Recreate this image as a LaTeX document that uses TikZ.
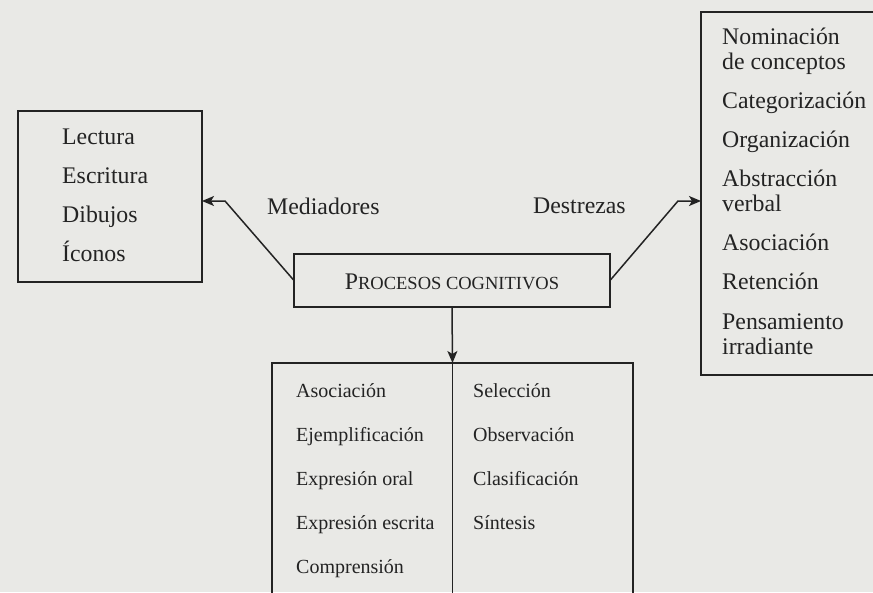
\documentclass[tikz,border=0pt]{standalone}
\usepackage{fontspec}
\setmainfont{Liberation Serif}
\usetikzlibrary{arrows.meta}
\definecolor{paper}{RGB}{233,233,230}
\definecolor{ink}{RGB}{35,35,35}
\begin{document}
\begin{tikzpicture}[x=1pt,y=-1pt,
  box/.style={draw=ink, line width=1.6pt, rectangle, inner sep=0pt, outer sep=0pt},
  conn/.style={draw=ink, line width=1.5pt},
  arr/.style={conn, -{Stealth[length=12pt,width=10pt,inset=3pt]}},
  big/.style={inner sep=0pt, anchor=base west, text=ink, font=\fontsize{23.8}{25}\selectfont},
  small/.style={inner sep=0pt, anchor=base west, text=ink, font=\fontsize{20}{21}\selectfont}]
\useasboundingbox (0,0) rectangle (873,592);
\fill[paper] (0,0) rectangle (873,592);
\clip (0,0) rectangle (873,592);
% boxes
\node[box, minimum width=184pt, minimum height=171pt] (medbox) at (110,196.5) {};
\node[box, minimum width=316pt, minimum height=53pt] (proc) at (452,280.5) {};
\node[box, minimum width=199pt, minimum height=363pt] (desbox) at (800.5,193.5) {};
\node[box, minimum width=361pt, minimum height=257pt] (botbox) at (452.5,491.5) {};
% title of center box
\node[inner sep=0pt, anchor=base, text=ink] (proct) at (452,289)
  {{\fontsize{23.8}{25}\selectfont P}{\fontsize{18.5}{20}\selectfont ROCESOS COGNITIVOS}};
% left box texts
\node[big] (l1) at (62,144) {Lectura};
\node[big] (l2) at (62,183) {Escritura};
\node[big] (l3) at (62,222) {Dibujos};
\node[big] (l4) at (62,261) {Íconos};
% right box texts
\node[big] (r1) at (722,44) {Nominación};
\node[big] (r2) at (722,69) {de conceptos};
\node[big] (r3) at (722,108) {Categorización};
\node[big] (r4) at (722,147) {Organización};
\node[big] (r5) at (722,186) {Abstracción};
\node[big] (r6) at (722,211) {verbal};
\node[big] (r7) at (722,250) {Asociación};
\node[big] (r8) at (722,289) {Retención};
\node[big] (r9) at (722,329) {Pensamiento};
\node[big] (r10) at (722,354) {irradiante};
% labels
\node[big] (medl) at (267,214) {Mediadores};
\node[big] (desl) at (533,213) {Destrezas};
% bottom box texts
\node[small] (b1) at (296,397) {Asociación};
\node[small] (b2) at (296,441) {Ejemplificación};
\node[small] (b3) at (296,485) {Expresión oral};
\node[small] (b4) at (296,529) {Expresión escrita};
\node[small] (b5) at (296,573) {Comprensión};
\node[small] (c1) at (473,397) {Selección};
\node[small] (c2) at (473,441) {Observación};
\node[small] (c3) at (473,485) {Clasificación};
\node[small] (c4) at (473,529) {Síntesis};
% connectors
\coordinate (kl) at (225,201);
\coordinate (kr) at (678,201);
\draw[arr] (proc.west) -- (kl) -- (kl -| medbox.east);
\draw[arr] (proc.east) -- (kr) -- (kr -| desbox.west);
\draw[arr] (proc.south) -- (botbox.north);
\draw[conn] (botbox.north) -- (botbox.south);
\end{tikzpicture}
\end{document}
